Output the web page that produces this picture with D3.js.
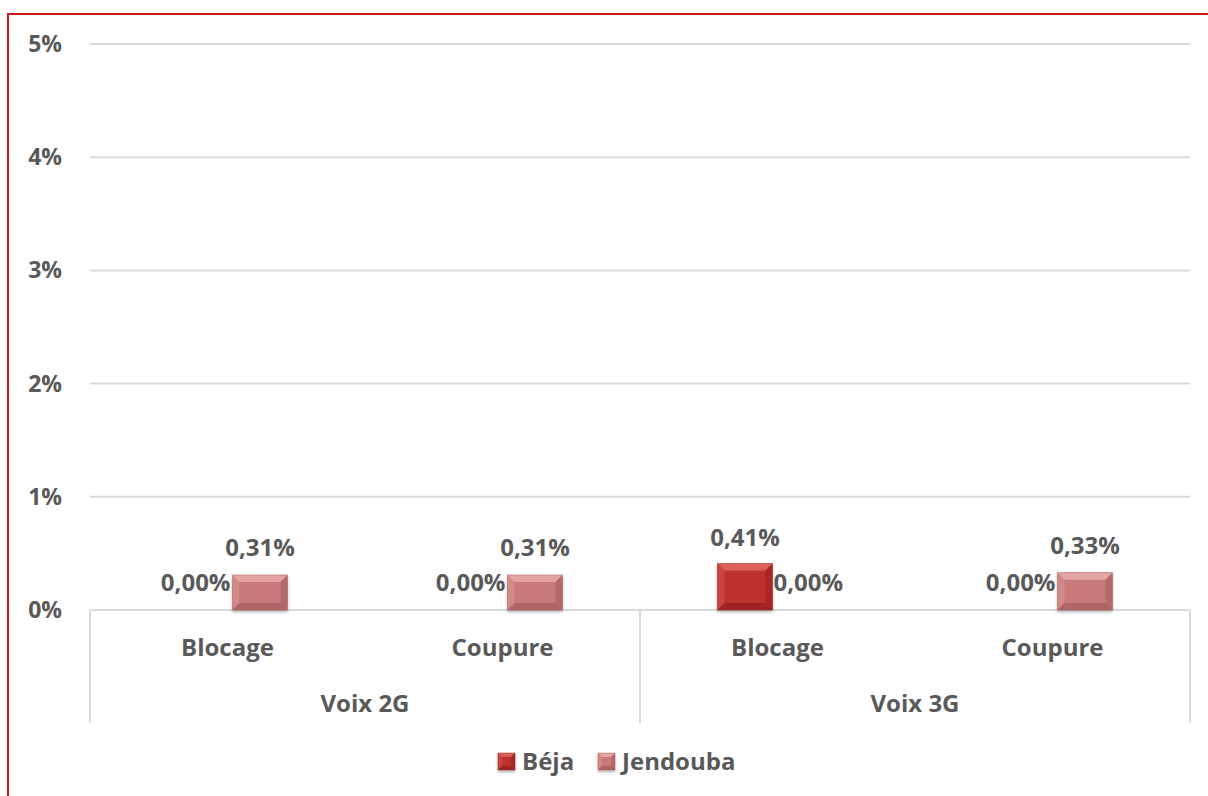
<!DOCTYPE html>
<html><head><meta charset="utf-8">
<script src="https://cdn.jsdelivr.net/npm/d3@7"></script>
<style>
html,body{margin:0;padding:0;background:#fff;}
svg{display:block;font-family:"Open Sans",sans-serif;font-weight:bold;}
</style></head>
<body><svg id="c" width="1208" height="796"></svg>
<script>
const groups = ["Voix 2G", "Voix 3G"];
const subCategories = ["Blocage", "Coupure"];
const seriesNames = ["Béja", "Jendouba"];
const bejaValues = [0.0000, 0.0000, 0.0041, 0.0000];
const jendoubaValues = [0.0031, 0.0031, 0.0000, 0.0033];
const yTicks = [0, 0.01, 0.02, 0.03, 0.04, 0.05];
const seriesColors = {"Béja": ["#BE302E", "#DE6662", "#8C1C1A"], "Jendouba": ["#C87979", "#E6A8A6", "#9C5858"]};

const cats = [];
groups.forEach(g => subCategories.forEach(s => cats.push({g, s, key: g + "|" + s})));
const values = {"Béja": bejaValues, "Jendouba": jendoubaValues};

const svg = d3.select("#c");
const textColor = "#595959";
const L = 90, R = 1190, T = 44, B = 610;
const y = d3.scaleLinear().domain([0, 0.05]).range([B, T]);
const x = d3.scaleBand().domain(cats.map(c => c.key)).range([L, R]);
const xg = d3.scaleBand().domain(groups).range([L, R]);
const pairW = 120;
const xs = d3.scaleBand().domain(seriesNames).range([-pairW / 2, pairW / 2]).paddingInner(10 / 65).paddingOuter(0);

// border
svg.append("path").attr("d", `M8,796 L8,14 L1208,14`).attr("fill", "none").attr("stroke", "#CC1A1A").attr("stroke-width", 2);

// gridlines
svg.append("g").selectAll("line").data(yTicks).join("line")
  .attr("x1", L).attr("x2", R).attr("y1", d => y(d)).attr("y2", d => y(d))
  .attr("stroke", "#D9D9D9").attr("stroke-width", 2);

// y labels
svg.append("g").selectAll("text").data(yTicks).join("text")
  .attr("x", 62).attr("y", d => y(d)).attr("dy", "0.35em").attr("text-anchor", "end")
  .attr("fill", textColor).attr("font-size", 23)
  .text(d => d3.format(".0%")(d));

// category separators
const seps = [L, ...groups.map(g => xg(g) + xg.bandwidth())];
svg.append("g").selectAll("line").data(seps).join("line")
  .attr("x1", d => d).attr("x2", d => d).attr("y1", B).attr("y2", 723)
  .attr("stroke", "#D9D9D9").attr("stroke-width", 2);

const defs = svg.append("defs");
const flt = defs.append("filter").attr("id", "sh").attr("x", "-20%").attr("y", "-20%").attr("width", "140%").attr("height", "150%");
flt.append("feDropShadow").attr("dx", 0).attr("dy", 2).attr("stdDeviation", 1.5).attr("flood-color", "#000").attr("flood-opacity", 0.3);

function bevelBar(g, x0, y0, w, h, col, bev) {
  const b = Math.min(bev, h / 2, w / 2);
  const grp = g.append("g").attr("filter", "url(#sh)");
  grp.append("rect").attr("x", x0).attr("y", y0).attr("width", w).attr("height", h).attr("fill", col[0]);
  grp.append("path").attr("d", `M${x0},${y0} L${x0 + w},${y0} L${x0 + w - b},${y0 + b} L${x0 + b},${y0 + b} Z`).attr("fill", col[1]).attr("opacity", 0.9);
  grp.append("path").attr("d", `M${x0},${y0} L${x0 + b},${y0 + b} L${x0 + b},${y0 + h - b} L${x0},${y0 + h} Z`).attr("fill", col[1]).attr("opacity", 0.35);
  grp.append("path").attr("d", `M${x0 + w},${y0} L${x0 + w - b},${y0 + b} L${x0 + w - b},${y0 + h - b} L${x0 + w},${y0 + h} Z`).attr("fill", col[2]).attr("opacity", 0.45);
  grp.append("path").attr("d", `M${x0},${y0 + h} L${x0 + b},${y0 + h - b} L${x0 + w - b},${y0 + h - b} L${x0 + w},${y0 + h} Z`).attr("fill", col[2]).attr("opacity", 0.6);
  grp.append("rect").attr("x", x0).attr("y", y0).attr("width", w).attr("height", h).attr("fill", "none").attr("stroke", col[2]).attr("stroke-width", 0.8).attr("opacity", 0.5);
}

const barsG = svg.append("g");
const labelsG = svg.append("g");
const fmt = v => d3.format(".2%")(v).replace(".", ",");

cats.forEach((c, i) => {
  const cx = x(c.key) + x.bandwidth() / 2;
  seriesNames.forEach((s, si) => {
    const v = values[s][i];
    const bx = cx + xs(s);
    const by = y(v);
    const h = y(0) - y(v);
    if (h > 0) bevelBar(barsG, bx, by, xs.bandwidth(), h, seriesColors[s], 7);
    const t = labelsG.append("text").attr("fill", textColor).attr("font-size", 24).text(fmt(v));
    if (v > 0) {
      t.attr("x", bx + xs.bandwidth() / 2).attr("y", by - (si === 0 ? 18 : 19)).attr("text-anchor", "middle");
    } else {
      const other = seriesNames[1 - si];
      if (si === 0) t.attr("x", cx + xs(other) - 2).attr("text-anchor", "end");
      else t.attr("x", cx + xs(other) + xs.bandwidth() + 1).attr("text-anchor", "start");
      t.attr("y", 591);
    }
  });
  svg.append("text").attr("x", cx).attr("y", 648).attr("dy", "0.35em")
    .attr("text-anchor", "middle").attr("fill", textColor).attr("font-size", 24).text(c.s);
});

groups.forEach(g => {
  svg.append("text").attr("x", xg(g) + xg.bandwidth() / 2).attr("y", 704).attr("dy", "0.35em")
    .attr("text-anchor", "middle").attr("fill", textColor).attr("font-size", 24).text(g);
});

// legend
const legend = svg.append("g");
const legendItems = [{s: "Béja", x: 498}, {s: "Jendouba", x: 598}];
legendItems.forEach(it => {
  bevelBar(legend, it.x, 753, 17, 17, seriesColors[it.s], 4);
  legend.append("text").attr("x", it.x + 24).attr("y", 762).attr("dy", "0.35em")
    .attr("fill", textColor).attr("font-size", 24).text(it.s);
});
</script></body></html>
